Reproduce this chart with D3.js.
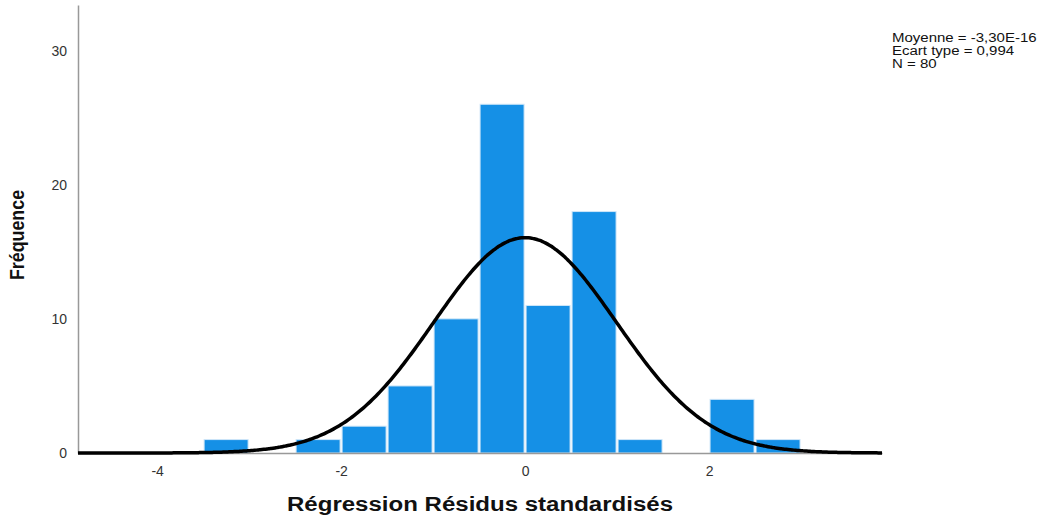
<!DOCTYPE html>
<html><head><meta charset="utf-8">
<script src="https://cdn.jsdelivr.net/npm/d3@7"></script>
<style>body{margin:0;background:#fff}svg{display:block}</style>
</head><body>
<svg id="c" width="1046" height="515"></svg>
<script>
const binStarts = [-3.5,-3.0,-2.5,-2.0,-1.5,-1.0,-0.5,0.0,0.5,1.0,1.5,2.0,2.5];
const counts    = [1,0,1,2,5,10,26,11,18,1,0,4,1];
const binWidth = 0.5;
const xTicks = [-4,-2,0,2];
const yTicks = [0,10,20,30];
const statsLines = ["Moyenne = -3,30E-16","Ecart type = 0,994","N = 80"];
const mean = -3.30e-16, sd = 0.994, N = 80;

const svg = d3.select("#c");
const x = d3.scaleLinear().domain([-4.86,3.88]).range([78,882]);
const y = d3.scaleLinear().domain([0,33.4]).range([453,5]);

// bars
svg.append("g").selectAll("rect").data(binStarts.map((s,i)=>({s,c:counts[i]})).filter(d=>d.c>0))
 .join("rect")
 .attr("x",d=>x(d.s)+1).attr("width",d=>x(d.s+binWidth)-x(d.s)-2)
 .attr("y",d=>y(d.c)).attr("height",d=>y(0)-y(d.c))
 .attr("fill","#1590e6").attr("stroke","#cfe6f8").attr("stroke-width",1);

const fmt = d => String(d);
// axes
const ax = d3.axisBottom(x).tickValues(xTicks).tickSize(0).tickPadding(10).tickFormat(fmt);
const gx = svg.append("g").attr("transform","translate(0,453)").call(ax);
gx.select(".domain").attr("stroke","#999").attr("stroke-width",1.5);
gx.selectAll("text").attr("font-family","Liberation Sans, Arial").attr("font-size",14).attr("fill","#333").attr("dy","0.9em");
const ay = d3.axisLeft(y).tickValues(yTicks).tickSize(0).tickPadding(11).tickFormat(fmt);
const gy = svg.append("g").attr("transform","translate(78,0)").call(ay);
gy.select(".domain").attr("stroke","#999").attr("stroke-width",1.5);
gy.selectAll("text").attr("font-family","Liberation Sans, Arial").attr("font-size",14).attr("fill","#333");

// normal curve
const xs = d3.range(-4.86,3.8801,0.02);
const line = d3.line().x(d=>x(d)).y(d=>y(N*binWidth*Math.exp(-0.5*((d-mean)/sd)**2)/(sd*Math.sqrt(2*Math.PI)))).curve(d3.curveBasis);
svg.append("path").datum(xs).attr("d",line).attr("fill","none").attr("stroke","#000").attr("stroke-width",3.5);

// labels
svg.append("text").attr("transform","translate(24,235) rotate(-90) scale(0.85,1)").attr("text-anchor","middle")
 .attr("font-family","Liberation Sans, Arial").attr("font-weight","bold").attr("font-size",21).attr("fill","#111").text("Fréquence");
svg.append("text").attr("x",480).attr("y",511).attr("text-anchor","middle")
 .attr("font-family","Liberation Sans, Arial").attr("font-weight","bold").attr("font-size",20).attr("fill","#111")
 .attr("textLength",386).attr("lengthAdjust","spacingAndGlyphs").text("Régression Résidus standardisés");
svg.append("g").attr("transform","translate(892,0) scale(1.25,1)").selectAll("text").data(statsLines).join("text")
 .attr("x",0).attr("y",(d,i)=>42+i*13).attr("font-family","Liberation Sans, Arial").attr("font-size",12).attr("fill","#111").text(d=>d);
</script>
</body></html>
